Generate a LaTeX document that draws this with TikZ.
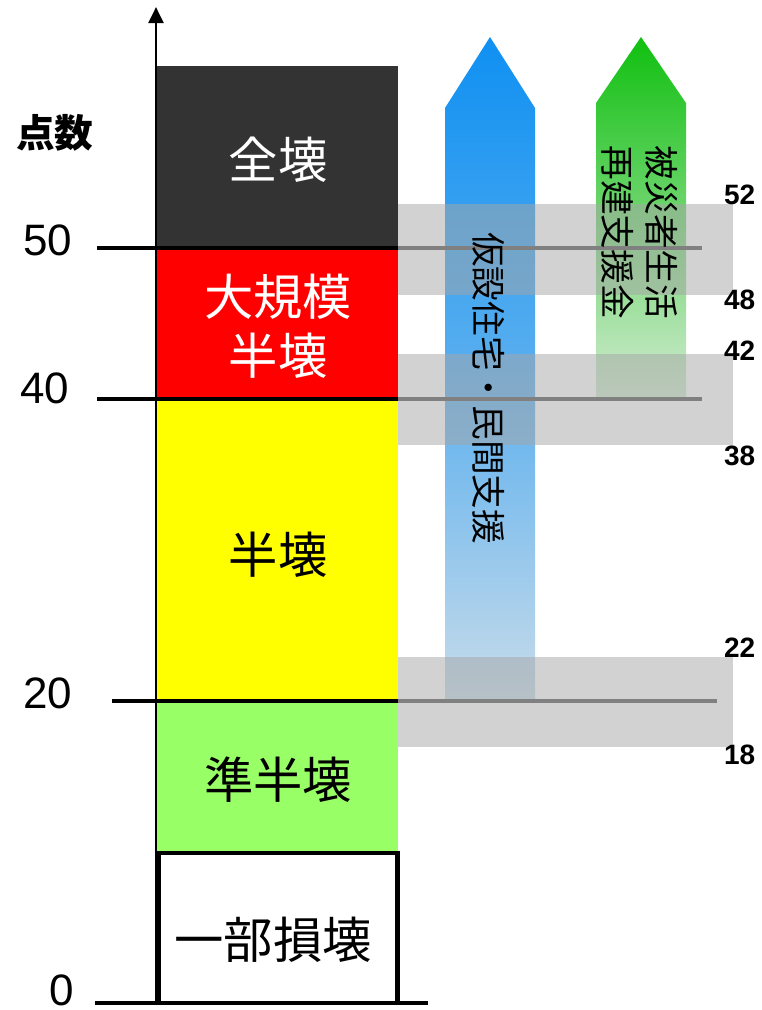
\documentclass[tikz,border=0pt]{standalone}
\usepackage{fontspec}
\setmainfont{Liberation Sans}
\newfontfamily\jp{Noto Sans CJK JP}
\usepackage{xcolor}
\usepackage{tikz}
\usetikzlibrary{arrows.meta}

\definecolor{zenkai}{HTML}{333333}
\definecolor{daikibo}{HTML}{FF0000}
\definecolor{hankai}{HTML}{FFFF00}
\definecolor{junhan}{HTML}{99FF66}
\definecolor{bluetop}{HTML}{0F90F2}
\definecolor{bluebot}{HTML}{C8DCEA}
\definecolor{greentop}{HTML}{10C010}
\definecolor{greenbot}{HTML}{D2EBD2}

\newcommand{\barfont}{\jp\fontsize{37}{44}\selectfont}
\newcommand{\arrfont}{\jp\fontsize{26}{33}\selectfont}

\begin{document}
\begin{tikzpicture}[x=0.75pt,y=-0.75pt,
		band/.style={fill=black!35,fill opacity=0.5},
		grayrule/.style={draw=black!50,line width=2.4pt},
		tickline/.style={draw=black,line width=2.4pt},
		score/.style={font=\fontsize{33}{36}\selectfont,inner sep=1pt},
		limit/.style={font=\bfseries\fontsize{21}{24}\selectfont,anchor=east}]
		\useasboundingbox (0,0) rectangle (761,1010);
		%
		% bars
		\fill[zenkai] (157,66) rectangle (398,248);
		\fill[daikibo] (157,248) rectangle (398,399);
		\fill[hankai] (157,399) rectangle (398,701);
		\fill[junhan] (157,701) rectangle (398,853);
		%
		\node[text=white,font=\barfont] (zen) at (278,160) {全壊};
		\node[text=white,font=\barfont,align=center] (dai) at (278,326) {大規模\\半壊};
		\node[font=\barfont] (han) at (278,555) {半壊};
		\node[font=\barfont] (jun) at (278,780) {準半壊};
		\node[font=\barfont] (ichi) at (273,940) {一部損壊};
		%
		% support arrows
		\shade[top color=bluetop,bottom color=bluebot,middle color=bluetop!60!bluebot]
		(445,701) -- (445,108) -- (490,37) -- (535,108) -- (535,701) -- cycle;
		\shade[top color=greentop,bottom color=greenbot]
		(596,399) -- (596,103) -- (641,37) -- (686,103) -- (686,399) -- cycle;
		%
		% threshold bands
		\fill[band] (398,204) rectangle (733,295);
		\fill[band] (398,354) rectangle (733,445);
		\fill[band] (398,657) rectangle (733,747);
		%
		\coordinate (t50) at (97,248);
		\coordinate (e50) at (398,248);
		\coordinate (g50) at (702,248);
		\coordinate (t40) at (97,399);
		\coordinate (e40) at (398,399);
		\coordinate (g40) at (702,399);
		\coordinate (t20) at (112,701);
		\coordinate (e20) at (398,701);
		\coordinate (g20) at (717,701);
		%
		\draw[grayrule] (e50) -- (g50);
		\draw[grayrule] (e40) -- (g40);
		\draw[grayrule] (e20) -- (g20);
		\draw[tickline] (t50) -- (e50);
		\draw[tickline] (t40) -- (e40);
		\draw[tickline] (t20) -- (e20);
		%
		% axis
		\coordinate (o) at (156,1003);
		\coordinate (top) at (156,7);
		\coordinate (b0) at (95,1003);
		\coordinate (b1) at (428,1003);
		\draw[line width=2.2pt,-{Triangle[width=11pt,length=12pt]}] (o) -- (top);
		\draw[line width=3pt] (b0) -- (b1);
		\draw[line width=3.4pt] (158.5,1003) -- (158.5,853) -- (397.5,853) -- (397.5,1003);
		%
		\node[score] (s50) at (48,240) {50};
		\node[score] (s40) at (45,388) {40};
		\node[score] (s20) at (48,693) {20};
		\node[score] (s0) at (62,990) {0};
		\node[font=\jp\bfseries\fontsize{29}{30}\selectfont] (pts) at (55,133) {点数};
		%
		\node[limit] (l52) at (760,195) {52};
		\node[limit] (l48) at (760,300) {48};
		\node[limit] (l42) at (760,351) {42};
		\node[limit] (l38) at (760,456) {38};
		\node[limit] (l22) at (760,648) {22};
		\node[limit] (l18) at (760,755) {18};
		%
		\node[rotate=-90,font=\arrfont] (kasetsu) at (489,388) {仮設住宅・民間支援};
		\node[rotate=-90,font=\arrfont,align=center] (hisai) at (640,232) {被災者生活\\再建支援金};
\end{tikzpicture}
\end{document}
